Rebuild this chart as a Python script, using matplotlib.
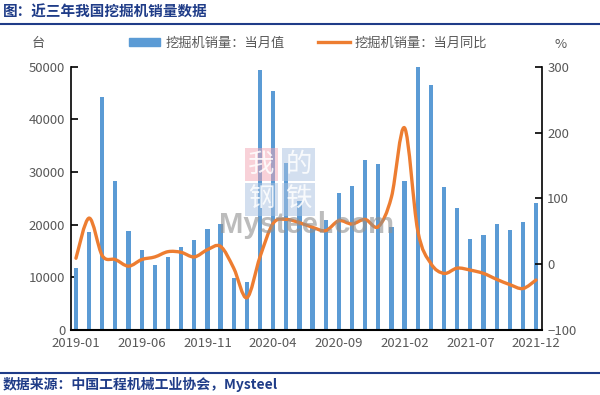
import matplotlib.pyplot as plt
import numpy as np
from matplotlib.path import Path
from matplotlib.patches import PathPatch, Rectangle
from matplotlib.lines import Line2D

plt.rcParams['font.family'] = ['Noto Sans CJK SC', 'DejaVu Sans']

# monthly data, 2019-01 .. 2021-12
months = ['%d-%02d' % (y, m) for y in (2019, 2020, 2021) for m in range(1, 13)]
sales = [11700, 18700, 44240, 28330, 18820, 15150, 12300, 13800, 15720, 17050, 19260, 20150,
         9830, 9180, 49430, 45370, 31690, 24580, 19400, 20910, 25980, 27300, 32190, 31430,
         19580, 28330, 50000, 46580, 27190, 23130, 17360, 18060, 20090, 19010, 20470, 24080]
yoy = [9, 70, 13, 7, -3, 7, 11, 19, 18, 11, 22, 27,
       -6, -51, 11, 62, 68, 63, 56, 51, 66, 61, 68, 57,
       102, 207, 51, 1, -14, -6, -9, -14, -23, -31, -37, -24]
tick_idx = [0, 5, 10, 15, 20, 25, 30, 35]

navy = '#1f3c88'
gray = '#595959'
blue = '#5b9bd5'
orange = '#ed7d31'

fig = plt.figure(figsize=(6, 3.95), dpi=100)
ax = fig.add_axes([70.7 / 600, 65 / 395, 471 / 600, 263.3 / 395])
x = np.arange(len(months))
ax.bar(x, sales, width=0.32, color=blue, zorder=2)
ax.set_ylim(0, 50000)
ax.set_xlim(-0.4, 35.43)
ax.set_yticks(range(0, 50001, 10000))
ax.set_xticks(tick_idx)
ax.set_xticklabels([months[i] for i in tick_idx])
ax.tick_params(axis='x', length=0, pad=5, colors=gray, labelsize=9.5)
ax.tick_params(axis='y', direction='in', length=5, width=1.2, colors='black',
               labelcolor=gray, labelsize=9.5, pad=4)
for s in ('top', 'right'):
    ax.spines[s].set_visible(False)
ax.spines['left'].set_linewidth(1.2)
ax.spines['bottom'].set_linewidth(1.5)

ax2 = ax.twinx()
ax2.set_ylim(-100, 300)
ax2.set_yticks(range(-100, 301, 100))
ax2.tick_params(axis='y', direction='in', length=5, width=1.2, colors='black',
                labelcolor=gray, labelsize=9.5, pad=4)
for s in ('top', 'left', 'bottom'):
    ax2.spines[s].set_visible(False)
ax2.spines['right'].set_linewidth(1.2)

# smoothed line (Excel-style cubic Bezier through the points)
pts = np.column_stack([x, yoy]).astype(float)
verts = [tuple(pts[0])]
codes = [Path.MOVETO]
n = len(pts)
for i in range(n - 1):
    p0 = pts[max(i - 1, 0)]
    p1 = pts[i]
    p2 = pts[i + 1]
    p3 = pts[min(i + 2, n - 1)]
    c1 = p1 + (p2 - p0) / 6
    c2 = p2 - (p3 - p1) / 6
    verts += [tuple(c1), tuple(c2), tuple(p2)]
    codes += [Path.CURVE4] * 3
ax2.add_patch(PathPatch(Path(verts, codes), fill=False, edgecolor=orange,
                        lw=2.4, capstyle='round', joinstyle='round', zorder=3))

# legend
handles = [Rectangle((0, 0), 1, 1, color=blue),
           Line2D([0], [0], color=orange, lw=2.4)]
leg = fig.legend(handles, ['挖掘机销量：当月值', '挖掘机销量：当月同比'],
                 loc='center', bbox_to_anchor=(308 / 600, 1 - 43 / 395), ncol=2,
                 frameon=False, fontsize=9.5, handlelength=2.4, handleheight=0.5,
                 columnspacing=2.5, handletextpad=0.4, labelcolor=gray)

fig.text(38 / 600, 1 - 44 / 395, '台', ha='center', va='center', color=gray, fontsize=9.5)
fig.text(561 / 600, 1 - 44 / 395, '%', ha='center', va='center', color=gray, fontsize=9.5)

# title and source
fig.text(3 / 600, 1 - 12 / 395, '图：近三年我国挖掘机销量数据', ha='left', va='center',
         color=navy, fontsize=10.5, fontweight='bold')
fig.add_artist(Line2D([0, 1], [1 - 24 / 395] * 2, color=navy, lw=1.5))
fig.add_artist(Line2D([0, 1], [1 - 373 / 395] * 2, color=navy, lw=1.5))
fig.text(3 / 600, 1 - 384 / 395, '数据来源：中国工程机械工业协会，Mysteel', ha='left',
         va='center', color=navy, fontsize=10, fontweight='bold')

# watermark
boxes = [(245, 148, '#f2a5b3', '我'), (282, 148, '#a9c1e0', '的'),
         (245, 183, '#a9c1e0', '钢'), (282, 183, '#a9c1e0', '铁')]
for bx, by, c, ch in boxes:
    fig.add_artist(Rectangle((bx / 600, 1 - (by + 33) / 395), 33 / 600, 33 / 395,
                             transform=fig.transFigure, color=c, alpha=0.5, lw=0, zorder=5))
    fig.text((bx + 16.5) / 600, 1 - (by + 16.5) / 395, ch, ha='center', va='center',
             color='white', fontsize=19, alpha=0.85, zorder=6)
fig.text(219 / 600, 1 - 225 / 395, 'Mysteel.com', ha='left', va='center',
         color='#909090', alpha=0.6, fontsize=21, fontweight='bold',
         family='Liberation Sans', zorder=6)

fig.savefig('out.png', dpi=100)
